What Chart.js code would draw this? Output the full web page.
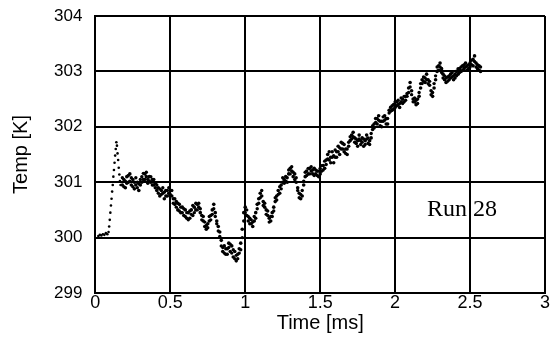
<!DOCTYPE html>
<html>
<head>
<meta charset="utf-8">
<script src="https://cdn.jsdelivr.net/npm/chart.js@4"></script>
<style>
  html, body { margin: 0; padding: 0; background: #fff; }
  #wrap { width: 557px; height: 348px; }
</style>
</head>
<body>
<div id="wrap"><canvas id="chart" width="557" height="348"></canvas></div>
<script>
// Temperature trace, Run 28

const xTicks = [0, 0.5, 1, 1.5, 2, 2.5, 3];
const yTicks = [299, 300, 301, 302, 303, 304];

const times = [
  0.02, 0.03, 0.04, 0.05, 0.06, 0.07, 0.08,
  0.088, 0.092, 0.096, 0.100, 0.104, 0.108, 0.112, 0.116, 0.120, 0.124, 0.128, 0.132, 0.136, 0.140,
  0.144, 0.148, 0.152, 0.156, 0.160, 0.164, 0.168,
  0.18, 0.19, 0.20, 0.21, 0.22, 0.23, 0.24, 0.25, 0.26, 0.27,
  0.28, 0.29, 0.30, 0.31, 0.32, 0.33, 0.34, 0.35, 0.36, 0.37,
  0.38, 0.39, 0.40, 0.41, 0.42, 0.43, 0.44, 0.45, 0.46, 0.47,
  0.48, 0.49, 0.50, 0.51, 0.52, 0.53, 0.54, 0.55, 0.56, 0.57,
  0.58, 0.59, 0.60, 0.61, 0.62, 0.63, 0.64, 0.65, 0.66, 0.67,
  0.68, 0.69, 0.70, 0.71, 0.72, 0.73, 0.74, 0.75, 0.76, 0.77,
  0.78, 0.79, 0.80, 0.81, 0.82, 0.83, 0.84, 0.85, 0.86, 0.87,
  0.88, 0.89, 0.90, 0.91, 0.92, 0.93, 0.94, 0.95, 0.96, 0.97,
  0.98, 0.99, 1.00, 1.01, 1.02, 1.03, 1.04, 1.05, 1.06, 1.07,
  1.08, 1.09, 1.10, 1.11, 1.12, 1.13, 1.14, 1.15, 1.16, 1.17,
  1.18, 1.19, 1.20, 1.21, 1.22, 1.23, 1.24, 1.25, 1.26, 1.27,
  1.28, 1.29, 1.30, 1.31, 1.32, 1.33, 1.34, 1.35, 1.36, 1.37,
  1.38, 1.39, 1.40, 1.41, 1.42, 1.43, 1.44, 1.45, 1.46, 1.47,
  1.48, 1.49, 1.50, 1.51, 1.52, 1.53, 1.54, 1.55, 1.56, 1.57,
  1.58, 1.59, 1.60, 1.61, 1.62, 1.63, 1.64, 1.65, 1.66, 1.67,
  1.68, 1.69, 1.70, 1.71, 1.72, 1.73, 1.74, 1.75, 1.76, 1.77,
  1.78, 1.79, 1.80, 1.81, 1.82, 1.83, 1.84, 1.85, 1.86, 1.87,
  1.88, 1.89, 1.90, 1.91, 1.92, 1.93, 1.94, 1.95, 1.96, 1.97,
  1.98, 1.99, 2.00, 2.01, 2.02, 2.03, 2.04, 2.05, 2.06, 2.07,
  2.08, 2.09, 2.10, 2.11, 2.12, 2.13, 2.14, 2.15, 2.16, 2.17,
  2.18, 2.19, 2.20, 2.21, 2.22, 2.23, 2.24, 2.25, 2.26, 2.27,
  2.28, 2.29, 2.30, 2.31, 2.32, 2.33, 2.34, 2.35, 2.36, 2.37,
  2.38, 2.39, 2.40, 2.41, 2.42, 2.43, 2.44, 2.45, 2.46, 2.47,
  2.48, 2.49, 2.50, 2.51, 2.52, 2.53, 2.54, 2.55, 2.56, 2.57
];

// main reading at each sample time
const temps = [
  300.03, 300.05, 300.04, 300.06, 300.05, 300.08, 300.06,
  300.10, 300.20, 300.32, 300.45, 300.58, 300.70, 300.83, 300.95, 301.10, 301.22, 301.35, 301.48, 301.60, 301.72,
  301.66, 301.52, 301.40, 301.26, 301.14, 301.02, 300.95,
  300.95, 301.05, 300.90, 301.10, 301.00, 301.15, 300.95, 301.05, 300.88, 300.95,
  301.00, 300.85, 300.95, 301.00, 301.05, 301.15, 301.10, 301.05, 301.10, 301.00,
  301.05, 300.95, 300.90, 300.85, 300.90, 300.75, 300.85, 300.80, 300.70, 300.85,
  300.75, 300.80, 300.85, 300.75, 300.70, 300.60, 300.65, 300.50, 300.60, 300.45,
  300.55, 300.40, 300.50, 300.35, 300.45, 300.35, 300.50, 300.40, 300.55, 300.50,
  300.60, 300.55, 300.45, 300.40, 300.30, 300.20, 300.15, 300.25, 300.30, 300.40,
  300.50, 300.60, 300.45, 300.30, 300.20, 300.10, 299.95, 299.75, 299.85, 299.70,
  299.80, 299.90, 299.75, 299.85, 299.65, 299.75, 299.58, 299.70, 299.80, 299.90,
  300.15, 300.45, 300.55, 300.40, 300.30, 300.35, 300.25, 300.20, 300.30, 300.45,
  300.60, 300.70, 300.80, 300.75, 300.65, 300.55, 300.50, 300.40, 300.35, 300.30,
  300.45, 300.55, 300.65, 300.75, 300.85, 300.80, 300.95, 301.00, 301.05, 301.10,
  301.00, 301.15, 301.25, 301.20, 301.10, 301.15, 301.00, 300.90, 300.80, 300.70,
  300.75, 300.95, 301.10, 301.20, 301.15, 301.25, 301.20, 301.15, 301.25, 301.15,
  301.20, 301.10, 301.15, 301.20, 301.30, 301.25, 301.40, 301.50, 301.40, 301.45,
  301.55, 301.35, 301.45, 301.55, 301.65, 301.50, 301.60, 301.70, 301.55, 301.60,
  301.50, 301.65, 301.75, 301.85, 301.90, 301.80, 301.70, 301.75, 301.85, 301.75,
  301.80, 301.65, 301.75, 301.85, 301.70, 301.75, 301.80, 301.95, 302.05, 302.15,
  302.05, 302.20, 302.10, 302.00, 302.10, 302.20, 302.15, 302.05, 302.30, 302.35,
  302.30, 302.40, 302.35, 302.45, 302.40, 302.35, 302.45, 302.50, 302.45, 302.55,
  302.60, 302.70, 302.80, 302.65, 302.50, 302.45, 302.40, 302.50, 302.55, 302.70,
  302.85, 302.90, 302.80, 302.95, 302.85, 302.75, 302.65, 302.55, 302.70, 302.85,
  303.00, 303.10, 303.15, 303.05, 302.95, 302.85, 302.80, 302.90, 302.85, 302.95,
  302.90, 302.85, 302.95, 303.00, 302.95, 303.05, 303.00, 303.10, 303.05, 303.15,
  303.10, 303.05, 303.15, 303.20, 303.10, 303.28, 303.15, 303.05, 303.10, 303.00
];

// second reading (the scatter band), sample times 0.18 .. 2.57
const tempsB = [
  301.08, 300.92, 301.02, 300.98, 301.12, 301.02, 301.08, 300.92, 301.00, 301.08,
  300.90, 300.97, 301.05, 301.10, 301.16, 301.05, 301.18, 300.98, 301.02, 301.10,
  300.95, 301.05, 300.98, 300.95, 300.80, 300.88, 300.78, 300.90, 300.82, 300.75,
  300.85, 300.90, 300.78, 300.85, 300.62, 300.70, 300.55, 300.62, 300.48, 300.55,
  300.45, 300.52, 300.38, 300.45, 300.32, 300.48, 300.42, 300.58, 300.45, 300.62,
  300.50, 300.62, 300.52, 300.32, 300.38, 300.28, 300.22, 300.18, 300.38, 300.32,
  300.42, 300.52, 300.38, 300.25, 300.12, 300.02, 299.85, 299.82, 299.72, 299.80,
  299.70, 299.82, 299.88, 299.72, 299.78, 299.62, 299.68, 299.62, 299.72, 299.78,
  300.00, 300.30, 300.45, 300.50, 300.38, 300.25, 300.32, 300.28, 300.38, 300.35,
  300.52, 300.62, 300.72, 300.85, 300.58, 300.62, 300.42, 300.48, 300.28, 300.38,
  300.38, 300.48, 300.72, 300.68, 300.78, 300.92, 300.88, 301.08, 300.98, 301.02,
  301.08, 301.22, 301.15, 301.28, 301.18, 301.05, 301.08, 300.85, 300.72, 300.78,
  300.85, 301.02, 301.18, 301.12, 301.25, 301.15, 301.28, 301.22, 301.12, 301.22,
  301.12, 301.20, 301.25, 301.30, 301.22, 301.38, 301.32, 301.42, 301.55, 301.35,
  301.45, 301.48, 301.58, 301.45, 301.55, 301.62, 301.72, 301.60, 301.68, 301.52,
  301.60, 301.72, 301.82, 301.78, 301.82, 301.72, 301.78, 301.65, 301.78, 301.68,
  301.72, 301.78, 301.68, 301.78, 301.80, 301.68, 301.88, 302.02, 301.98, 302.08,
  302.15, 302.12, 302.02, 302.10, 302.18, 302.12, 302.05, 302.15, 302.25, 302.28,
  302.38, 302.32, 302.45, 302.38, 302.48, 302.42, 302.52, 302.42, 302.55, 302.48,
  302.55, 302.62, 302.72, 302.58, 302.45, 302.52, 302.48, 302.42, 302.62, 302.78,
  302.78, 302.82, 302.88, 302.85, 302.78, 302.82, 302.58, 302.62, 302.78, 302.92,
  303.08, 303.02, 303.08, 302.98, 302.88, 302.92, 302.88, 302.82, 302.92, 302.88,
  302.98, 302.92, 302.88, 302.92, 303.05, 302.98, 303.08, 303.02, 303.12, 303.08,
  303.02, 303.12, 303.08, 303.12, 303.22, 303.18, 303.08, 303.12, 303.02, 303.08
];

const runText = 'Run 28';
const runAt = [2.447, 300.395];   // text anchor (data coords)

const points = times.map((t, i) => ({ x: t, y: temps[i] }));
const timesB = times.filter(t => t >= 0.175);
const pointsB = timesB.map((t, i) => ({ x: t, y: tempsB[i] }));

// "Run 28" note written inside the plot, same as the scanned figure
const runLabel = {
  id: 'runLabel',
  afterDatasetsDraw(chart) {
    const { ctx, scales: { x, y } } = chart;
    ctx.save();
    ctx.font = '24px "Liberation Serif", "Times New Roman", serif';
    ctx.fillStyle = '#000';
    ctx.textAlign = 'center';
    ctx.textBaseline = 'alphabetic';
    ctx.fillText(runText, x.getPixelForValue(runAt[0]), y.getPixelForValue(runAt[1]));
    ctx.restore();
  }
};

const sans = '"Liberation Sans", Arial, Helvetica, sans-serif';

new Chart(document.getElementById('chart').getContext('2d'), {
  type: 'scatter',
  data: {
    datasets: [{
      data: points,
      showLine: false,
      // the fast rise at the start is drawn as a thin dotted column
      pointRadius: c => (c.raw && c.raw.x < 0.17) ? 1.3 : 1.8,
      pointBorderWidth: 0,
      backgroundColor: '#000',
      borderColor: '#000'
    }, {
      data: pointsB,
      showLine: false,
      pointRadius: 1.7,
      pointBorderWidth: 0,
      backgroundColor: '#000',
      borderColor: '#000'
    }]
  },
  options: {
    responsive: false,
    animation: false,
    events: [],
    layout: { padding: { left: 0, right: 12, top: 16, bottom: 0 } },
    plugins: { legend: { display: false }, tooltip: { enabled: false } },
    scales: {
      x: {
        type: 'linear',
        min: 0, max: 3,
        afterBuildTicks: axis => { axis.ticks = xTicks.map(v => ({ value: v })); },
        afterFit: s => { s.paddingLeft = 0; s.paddingRight = 0; },
        ticks: { color: '#000', font: { family: sans, size: 18, lineHeight: 1 }, padding: 1, maxRotation: 0,
                 callback: v => String(v) },
        grid: { color: '#000', lineWidth: 2, drawTicks: false },
        border: { color: '#000', width: 2 },
        title: { display: true, text: 'Time [ms]', color: '#000',
                 font: { family: sans, size: 20, lineHeight: 1 }, padding: { top: 0, bottom: 15 } }
      },
      y: {
        type: 'linear',
        min: 299, max: 304,
        afterBuildTicks: axis => { axis.ticks = yTicks.map(v => ({ value: v })); },
        afterFit: s => { s.paddingTop = 0; s.paddingBottom = 0; },
        ticks: { color: '#000', font: { family: sans, size: 17, lineHeight: 1 }, padding: 13,
                 callback: v => String(v) },
        grid: { color: '#000', lineWidth: 2, drawTicks: false },
        border: { color: '#000', width: 2 },
        title: { display: true, text: 'Temp [K]', color: '#000',
                 font: { family: sans, size: 20, lineHeight: 1 }, padding: { top: 11, bottom: 10 } }
      }
    }
  },
  plugins: [runLabel]
});
</script>
</body>
</html>
